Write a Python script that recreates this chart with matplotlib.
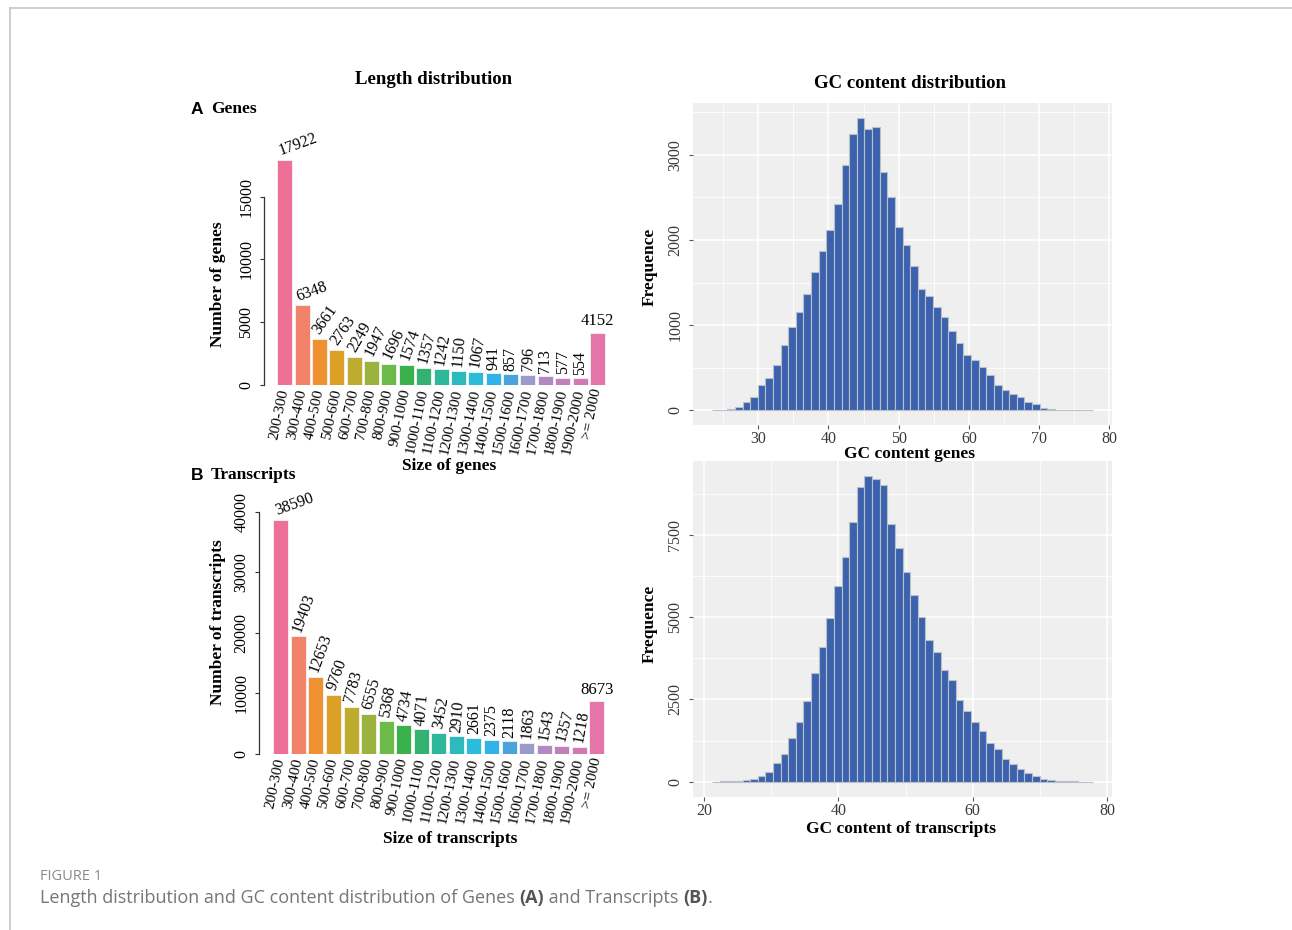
import numpy as np
import matplotlib
matplotlib.use("Agg")
import matplotlib.pyplot as plt
from matplotlib.lines import Line2D

plt.rcParams['font.family'] = 'serif'
plt.rcParams['font.serif'] = ['Liberation Serif', 'DejaVu Serif']

# length classes shared by both bar charts
size_bins = ['200-300', '300-400', '400-500', '500-600', '600-700', '700-800',
             '800-900', '900-1000', '1000-1100', '1100-1200', '1200-1300',
             '1300-1400', '1400-1500', '1500-1600', '1600-1700', '1700-1800',
             '1800-1900', '1900-2000', '>= 2000']
gene_counts = [17922, 6348, 3661, 2763, 2249, 1947, 1696, 1574, 1357, 1242,
               1150, 1067, 941, 857, 796, 713, 577, 554, 4152]
transcript_counts = [38590, 19403, 12653, 9760, 7783, 6555, 5368, 4734, 4071,
                     3452, 2910, 2661, 2375, 2118, 1863, 1543, 1357, 1218, 8673]

# GC content histograms (50 bins each)
gc_gene_range = (23.44, 77.65)
gc_gene_counts = [8, 5, 20, 43, 98, 156, 297, 382, 538, 765,
                  975, 1155, 1362, 1627, 1877, 2119, 2427, 2883, 3242, 3437,
                  3309, 3332, 2801, 2505, 2150, 1943, 1690, 1428, 1338, 1209,
                  1092, 928, 788, 652, 593, 511, 414, 300, 238, 195,
                  152, 98, 74, 27, 16, 8, 3, 2, 2, 1]
gc_tr_range = (21.19, 77.90)
gc_tr_counts = [5, 10, 15, 25, 40, 80, 160, 285, 570, 845,
                1330, 1810, 2450, 3295, 4100, 4985, 5950, 6845, 7900, 8950,
                9285, 9215, 9020, 7840, 7100, 6385, 5675, 5005, 4300, 3955,
                3405, 3100, 2490, 2155, 1810, 1535, 1170, 995, 700, 530,
                375, 265, 160, 80, 50, 20, 15, 8, 5, 3]

bar_colors = ['#EE7096', '#F3826A', '#EF9130', '#DCA024', '#BEAC2F', '#9BB23E',
              '#6CBA48', '#3AB24C', '#33B272', '#2EB799', '#2CBABD', '#2ABCDA',
              '#30B3E8', '#4AA3DB', '#9A9ACB', '#B08AC0', '#C080BC', '#D278B2',
              '#E575A8']
gene_label_rot = [20, 20, 55, 55, 60, 65, 65, 70, 75, 80, 85, 80, 90, 90, 88, 90, 90, 90, 0]
tr_label_rot = [20, 70, 70, 70, 75, 75, 80, 80, 85, 80, 85, 90, 90, 90, 85, 80, 75, 80, 0]

W, H = 1292, 930
fig = plt.figure(figsize=(W / 100, H / 100), dpi=100)
fig.patch.set_facecolor('white')


def px_axes(left, top, right, bottom):
    return fig.add_axes([left / W, 1 - bottom / H, (right - left) / W, (bottom - top) / H])


def ftext(x, y, s, **kw):
    return fig.text(x / W, 1 - y / H, s, **kw)


def length_bars(ax, counts, rots, yticks, width):
    idx = np.arange(len(counts))
    ax.bar(idx, counts, width=width, color=bar_colors, edgecolor='#f4f4f4', linewidth=0.6)
    for i, (v, a) in enumerate(zip(counts, rots)):
        if a == 0:
            ax.annotate(str(v), (i, v), xytext=(0, 2.5), textcoords='offset points',
                        ha='center', va='bottom', fontsize=12)
        else:
            c = np.cos(np.radians(a))
            ax.annotate(str(v), (i, v), xytext=(-c * 4.0, 2.5 + c * 3.8),
                        textcoords='offset points', rotation=a, rotation_mode='anchor',
                        ha='left', va='center', fontsize=11.5)
    for s in ['top', 'right', 'bottom']:
        ax.spines[s].set_visible(False)
    ax.spines['left'].set_bounds(yticks[0], yticks[-1])
    ax.spines['left'].set_color('#333333')
    ax.spines['left'].set_linewidth(0.9)
    ax.set_yticks(yticks)
    ax.tick_params(axis='y', length=3, width=0.8, color='#333333', pad=4, labelsize=11.5,
                   labelrotation=90)
    for lab in ax.get_yticklabels():
        lab.set_va('center')
    ax.set_xticks(idx, size_bins, rotation=78, ha='right', va='center',
                  rotation_mode='anchor', fontsize=11)
    ax.tick_params(axis='x', length=0, pad=3)
    ax.patch.set_visible(False)


# A: genes
ax1 = px_axes(264, 150, 612, 385)
length_bars(ax1, gene_counts, gene_label_rot, [0, 5000, 10000, 15000], 0.864)
ax1.set_xlim(-1.197, 18.84)
ax1.set_ylim(0, 18710)

# B: transcripts
ax2 = px_axes(259, 505, 612, 754)
length_bars(ax2, transcript_counts, tr_label_rot, [0, 10000, 20000, 30000, 40000], 0.854)
ax2.set_xlim(-1.241, 18.86)
ax2.set_ylim(0, 41089)


def gc_hist(ax, counts, rng, xmaj, xmin_, ymaj, ymin_, xlim, ylim):
    edges = np.linspace(rng[0], rng[1], len(counts) + 1)
    ax.set_facecolor('#EEEFEE')
    ax.bar(edges[:-1], counts, width=np.diff(edges), align='edge', color='#3C62AD',
           edgecolor='#B9BFCB', linewidth=0.8, zorder=3)
    ax.set_xticks(xmaj)
    ax.set_xticks(xmin_, minor=True)
    ax.set_yticks(ymaj)
    ax.set_yticks(ymin_, minor=True)
    ax.grid(which='major', color='white', linewidth=1.1, zorder=0)
    ax.grid(which='minor', color='white', linewidth=0.55, zorder=0)
    ax.set_axisbelow(True)
    for s in ax.spines.values():
        s.set_visible(False)
    ax.tick_params(which='major', length=3, width=0.8, color='#555555', labelcolor='#3a3a3a',
                   labelsize=11.5)
    ax.tick_params(which='minor', length=0)
    ax.tick_params(axis='x', pad=1.5)
    ax.tick_params(axis='y', pad=4, labelrotation=90)
    for lab in ax.get_yticklabels():
        lab.set_va('center')
    ax.set_xlim(*xlim)
    ax.set_ylim(*ylim)


ax3 = px_axes(693, 103, 1112, 425)
gc_hist(ax3, gc_gene_counts, gc_gene_range, [30, 40, 50, 60, 70, 80],
        [25, 35, 45, 55, 65, 75], [0, 1000, 2000, 3000], [500, 1500, 2500, 3500],
        (20.73, 80.36), (-172, 3609))

ax4 = px_axes(693, 461, 1112, 797)
gc_hist(ax4, gc_tr_counts, gc_tr_range, [20, 40, 60, 80], [30, 50, 70],
        [0, 2500, 5000, 7500], [1250, 3750, 6250, 8750],
        (18.35, 80.74), (-464, 9750))

# titles and axis labels
bold = dict(fontweight='bold', color='black')
ftext(434, 80, 'Length distribution', ha='center', va='center', fontsize=13.5, **bold)
ftext(910, 83, 'GC content distribution', ha='center', va='center', fontsize=13.5, **bold)
ftext(191, 109, 'A', ha='left', va='center', fontsize=12.5, family='Liberation Sans', **bold)
ftext(211, 109, 'Genes', ha='left', va='center', fontsize=12.5, **bold)
ftext(191, 475, 'B', ha='left', va='center', fontsize=12.5, family='Liberation Sans', **bold)
ftext(211, 475, 'Transcripts', ha='left', va='center', fontsize=12.5, **bold)
ftext(218, 284, 'Number of genes', rotation=90, ha='center', va='center', fontsize=12.5, **bold)
ftext(218, 622, 'Number of transcripts', rotation=90, ha='center', va='center', fontsize=12.5, **bold)
ftext(449, 466, 'Size of genes', ha='center', va='center', fontsize=12.5, **bold)
ftext(450, 839, 'Size of transcripts', ha='center', va='center', fontsize=12.5, **bold)
ftext(650, 267, 'Frequence', rotation=90, ha='center', va='center', fontsize=12.5, **bold)
ftext(650, 624, 'Frequence', rotation=90, ha='center', va='center', fontsize=12.5, **bold)
ftext(909, 454, 'GC content genes', ha='center', va='center', fontsize=12.5, **bold)
ftext(901, 829, 'GC content of transcripts', ha='center', va='center', fontsize=12.5, **bold)

# page frame
fig.add_artist(Line2D([10 / W, 1], [1 - 8 / H, 1 - 8 / H], color='#c6c6c6', linewidth=1.2))
fig.add_artist(Line2D([10 / W, 10 / W], [0, 1 - 8 / H], color='#c6c6c6', linewidth=1.2))

# caption
ftext(40, 876, 'FIGURE 1', ha='left', va='center', fontsize=10.5, family='Open Sans',
      color='#8a8a8a')
renderer = fig.canvas.get_renderer()
runs = [('Length distribution and GC content distribution of Genes ', 'normal', '#767676'),
        ('(A)', 'bold', '#555555'),
        (' and Transcripts ', 'normal', '#767676'),
        ('(B)', 'bold', '#555555'),
        ('.', 'normal', '#767676')]
cx = 40
for s, w, col in runs:
    t = ftext(cx, 898, s, ha='left', va='center', fontsize=13, family='Open Sans',
              fontweight=w, color=col)
    cx += t.get_window_extent(renderer).width

fig.savefig('out.png', dpi=100, facecolor='white')
